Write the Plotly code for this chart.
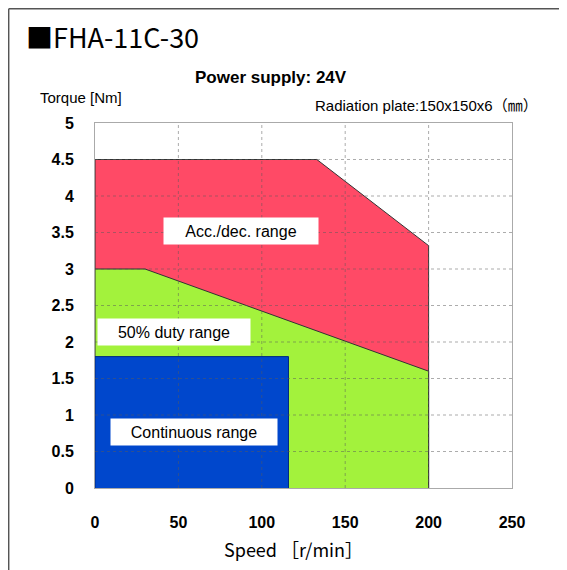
import plotly.graph_objects as go

# ---- data ----
acc_speed = [0, 0, 133, 200, 200]
acc_torque = [0, 4.5, 4.5, 3.32, 0]
duty_speed = [0, 0, 30, 200, 200]
duty_torque = [0, 3.0, 3.0, 1.6, 0]
cont_speed = [0, 0, 116, 116]
cont_torque = [0, 1.8, 1.8, 0]

x_ticks = [0, 50, 100, 150, 200, 250]
y_ticks = [0, 0.5, 1, 1.5, 2, 2.5, 3, 3.5, 4, 4.5, 5]
y_tick_text = ["0", "0.5", "1", "1.5", "2", "2.5", "3", "3.5", "4", "4.5", "5"]

labels = ["Acc./dec. range", "50% duty range", "Continuous range"]
label_x = [87.5, 47.3, 59.4]
label_y = [3.52, 2.14, 0.77]
label_w = [152, 150, 164]

fig = go.Figure()
fig.add_trace(go.Scatter(x=acc_speed, y=acc_torque, fill="toself", mode="lines",
                         fillcolor="#FF4A66", line=dict(color="#333333", width=1),
                         hoverinfo="skip", showlegend=False))
fig.add_trace(go.Scatter(x=duty_speed, y=duty_torque, fill="toself", mode="lines",
                         fillcolor="#A3F23C", line=dict(color="#333333", width=1),
                         hoverinfo="skip", showlegend=False))
fig.add_trace(go.Scatter(x=cont_speed, y=cont_torque, fill="toself", mode="lines",
                         fillcolor="#0047CC", line=dict(color="#002a80", width=1),
                         hoverinfo="skip", showlegend=False))

shapes = []
for xv in x_ticks[1:-1]:
    shapes.append(dict(type="line", xref="x", yref="y", x0=xv, x1=xv, y0=0, y1=5,
                       line=dict(color="rgba(90,90,90,0.5)", width=1, dash="dot"), layer="above"))
for yv in y_ticks[1:-1]:
    shapes.append(dict(type="line", xref="x", yref="y", x0=0, x1=250, y0=yv, y1=yv,
                       line=dict(color="rgba(90,90,90,0.5)", width=1, dash="dot"), layer="above"))
# outer frame (as close to the page edge as the figure allows)
shapes.append(dict(type="line", xref="paper", yref="paper", x0=-0.207, x1=1.2,
                   y0=1.313, y1=1.313, line=dict(color="#555555", width=1.5)))
shapes.append(dict(type="line", xref="paper", yref="paper", x0=-0.207, x1=-0.207,
                   y0=1.313, y1=-0.3, line=dict(color="#555555", width=1.5)))

annotations = []
for t, xv, yv, w in zip(labels, label_x, label_y, label_w):
    annotations.append(dict(x=xv, y=yv, xref="x", yref="y", text=t, showarrow=False,
                            bgcolor="white", width=w, height=24,
                            font=dict(family="Liberation Sans, Arial", size=16, color="black")))

annotations += [
    dict(x=-0.17, y=1.236, xref="paper", yref="paper", xanchor="left", yanchor="middle",
         text="■FHA-11C-30", showarrow=False,
         font=dict(family="Noto Sans CJK JP", size=27, color="black")),
    dict(x=0.421, y=1.126, xref="paper", yref="paper", xanchor="center", yanchor="middle",
         text="<b>Power supply: 24V</b>", showarrow=False,
         font=dict(family="Liberation Sans, Arial", size=17, color="black")),
    dict(x=-0.137, y=1.071, xref="paper", yref="paper", xanchor="left", yanchor="middle",
         text="Torque [Nm]", showarrow=False,
         font=dict(family="Liberation Sans, Arial", size=15, color="black")),
    dict(x=1.068, y=1.049, xref="paper", yref="paper", xanchor="right", yanchor="middle",
         text="Radiation plate:150x150x6（㎜）", showarrow=False,
         font=dict(family="Liberation Sans, Noto Sans CJK JP", size=15, color="black")),
    dict(x=0.477, y=-0.167, xref="paper", yref="paper", xanchor="center", yanchor="middle",
         text="Speed ［r/min］", showarrow=False,
         font=dict(family="Noto Sans CJK JP", size=18, color="black")),
]

fig.update_layout(
    width=559, height=562,
    margin=dict(l=87, r=55, t=115, b=82),
    paper_bgcolor="white", plot_bgcolor="white",
    shapes=shapes, annotations=annotations,
    showlegend=False,
    xaxis=dict(range=[0, 250], tickvals=x_ticks, ticktext=[str(v) for v in x_ticks],
               showgrid=False, zeroline=False, showline=True, mirror=True,
               linecolor="#aaaaaa", linewidth=1, ticks="outside", ticklen=20,
               tickcolor="rgba(0,0,0,0)",
               tickfont=dict(family="Liberation Sans, Arial", size=16, color="black", weight="bold")),
    yaxis=dict(range=[0, 5], tickvals=y_ticks, ticktext=y_tick_text,
               showgrid=False, zeroline=False, showline=True, mirror=True,
               linecolor="#aaaaaa", linewidth=1, ticks="outside", ticklen=17,
               tickcolor="rgba(0,0,0,0)",
               tickfont=dict(family="Liberation Sans, Arial", size=16, color="black", weight="bold")),
)

fig.write_html("out.html")
